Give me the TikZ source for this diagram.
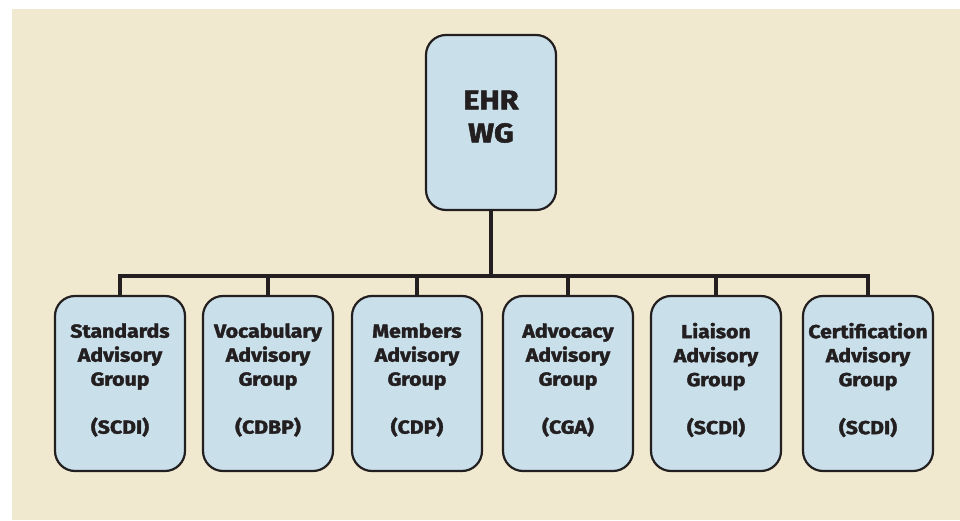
\documentclass[tikz,border=0pt]{standalone}
\usepackage{fontspec}
\setmainfont{Fira Sans}[BoldFont={* Bold},BoldFeatures={FakeBold=2,FakeStretch=1.13}]
\definecolor{bgbeige}{HTML}{F0E9CF}
\definecolor{boxblue}{HTML}{C9DFE9}
\definecolor{ink}{HTML}{231F20}
\begin{document}
\begin{tikzpicture}[x=1pt,y=-1pt,
  orgbox/.style={draw=ink, line width=2.2pt, fill=boxblue, rounded corners=20pt,
    minimum width=130pt, minimum height=175pt, inner sep=0pt, align=center, text=ink,
    font=\bfseries\fontsize{18.8}{24}\selectfont},
  link/.style={draw=ink, line width=3.2pt}]
\useasboundingbox (0,0) rectangle (960,521);
\fill[white] (0,0) rectangle (960,521);
\fill[bgbeige] (12,9) rectangle (960,520);
\coordinate (bus) at (491,276);
\node[orgbox, font=\bfseries\fontsize{27}{33}\selectfont] (top) at (491,122.5) {EHR\\WG\\[-21pt]\mbox{}};
\node[orgbox] (g1) at (120,383.5) {Standards\\Advisory\\Group\\[24pt](SCDI)\\[-14pt]\mbox{}};
\node[orgbox] (g2) at (268,383.5) {Vocabulary\\Advisory\\Group\\[24pt](CDBP)\\[-14pt]\mbox{}};
\node[orgbox] (g3) at (417,383.5) {Members\\Advisory\\Group\\[24pt](CDP)\\[-14pt]\mbox{}};
\node[orgbox] (g4) at (568,383.5) {Advocacy\\Advisory\\Group\\[24pt](CGA)\\[-14pt]\mbox{}};
\node[orgbox] (g5) at (716,383.5) {Liaison\\Advisory\\Group\\[24pt](SCDI)\\[-14pt]\mbox{}};
\node[orgbox] (g6) at (868,383.5) {Certification\\Advisory\\Group\\[24pt](SCDI)\\[-14pt]\mbox{}};
\draw[link] (top.south) -- (bus);
\draw[link, line cap=rect] (g1.north |- bus) -- (g6.north |- bus);
\foreach \g in {g1,g2,g3,g4,g5,g6} \draw[link] (\g.north |- bus) -- (\g.north);
\end{tikzpicture}
\end{document}
